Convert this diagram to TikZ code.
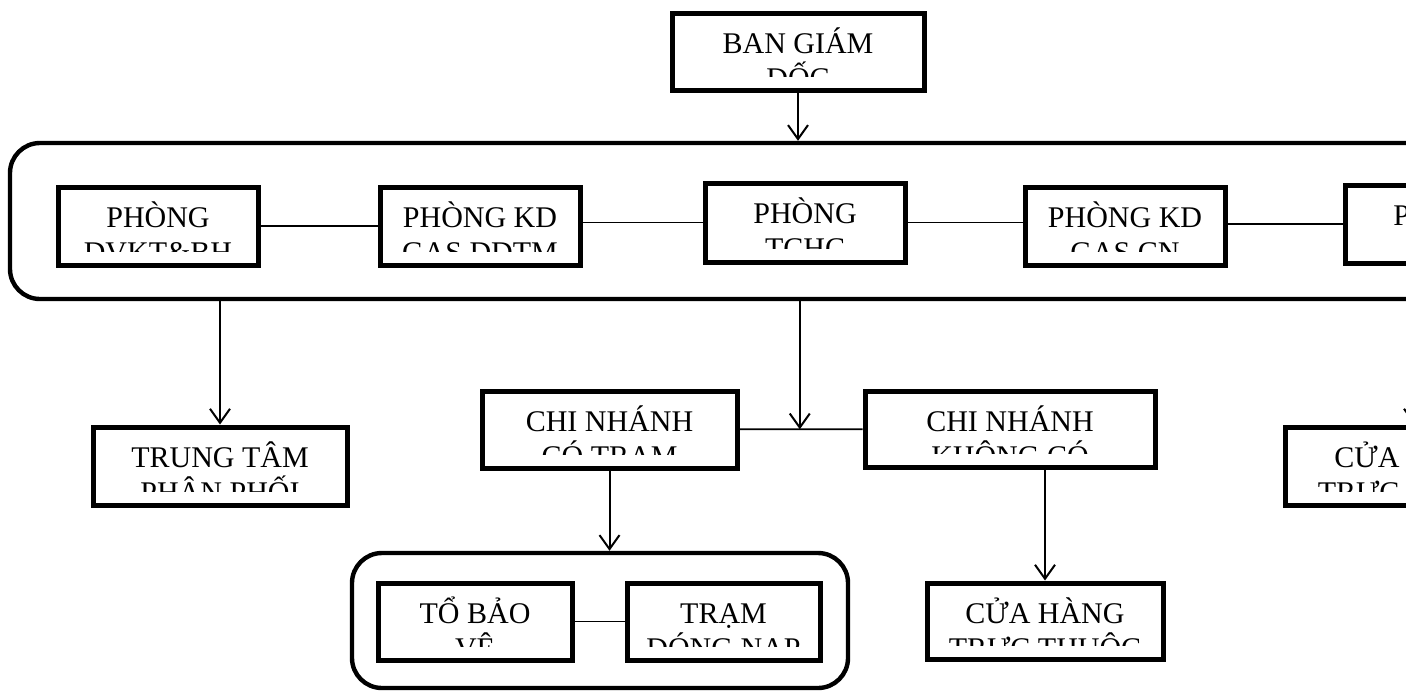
\documentclass[tikz,border=0pt]{standalone}
\usepackage{fontspec}
\setmainfont{Liberation Serif}
\usetikzlibrary{positioning, arrows.meta, fit, calc}
\tikzset{
  orgbox/.style={
    draw, rectangle,
    line width=2.5pt, inner sep=0pt
  },
  grpbox/.style={
    draw, rectangle, rounded corners=15pt,
    line width=2.2pt, inner sep=0pt
  },
  txt/.style={font=\fontsize{15pt}{18pt}\selectfont, anchor=base, inner sep=0pt},
  link/.style={line width=0.9pt},
  darr/.style={-{Straight Barb[length=7pt, width=10pt, line width=1pt]}, line width=1pt},
}
% box with two text lines, the lower one cut by the frame
\newcommand{\deptbox}[7]{%
  \node[orgbox, fit={(#2,#3) (#4,#5)}] (#1) {};
  \begin{scope}
    \clip (#2,#3) rectangle ({#4},{#5-14});
    \node[txt] at ({(#2+#4)/2},{#3+40}) {#6};
    \node[txt] at ({(#2+#4)/2},{#3+75}) {#7};
  \end{scope}
}

\begin{document}
\begin{tikzpicture}[x=0.5pt, y=-0.5pt]
        \clip (0,0) rectangle (1406,691);
        % top
        \deptbox{bgd}{672}{13}{924}{90}{BAN GIÁM}{ĐỐC}
        \node[grpbox, fit={(10,143) (1580,299)}] (grp1) {};
        \deptbox{dvkt}{58}{187}{258}{265}{PHÒNG}{DVKT\&BH}
        \deptbox{kdddtm}{380}{187}{580}{265}{PHÒNG KD}{GAS DDTM}
        \deptbox{tchc}{705}{183}{905}{262}{PHÒNG}{TCHC}
        \deptbox{kdcn}{1025}{187}{1225}{265}{PHÒNG KD}{GAS CN}
        \deptbox{pkt}{1345}{185}{1545}{263}{PHÒNG}{}
        \draw[link] (dvkt) -- (kdddtm);
        \draw[link] (tchc.west -| kdddtm.east) -- (tchc.west);
        \draw[link] (tchc.east) -- (tchc.east -| kdcn.west);
        \draw[link] (pkt.west -| kdcn.east) -- (pkt.west);
        \draw[darr] (bgd.south) -- (bgd.south |- grp1.north);
        % branches
        \deptbox{ttpp}{93}{427}{347}{505}{TRUNG TÂM}{PHÂN PHỐI}
        \deptbox{cnct}{482}{391}{737}{468}{CHI NHÁNH}{CÓ TRẠM}
        \deptbox{cnkc}{865}{391}{1155}{467}{CHI NHÁNH}{KHÔNG CÓ}
        \deptbox{chtt2}{1285}{427}{1543}{505}{CỬA HÀNG}{TRỰC THUỘC}
        \draw[link] (cnct) -- (cnkc);
        \coordinate (cnmid) at ($(cnct.east)!0.49!(cnkc.west)$);
        \draw[darr] (grp1.south -| ttpp.north) -- (ttpp.north);
        \draw[darr] (grp1.south -| cnmid) -- (cnmid);
        \draw[darr] (grp1.south -| chtt2.north) -- (chtt2.north);
        % bottom
        \node[grpbox, fit={(352,553) (848,688)}] (grp2) {};
        \deptbox{tbv}{378}{583}{572}{660}{TỔ BẢO}{VỆ}
        \deptbox{tdn}{627}{583}{820}{660}{TRẠM}{ĐÓNG NẠP}
        \deptbox{chtt}{927}{583}{1163}{659}{CỬA HÀNG}{TRỰC THUỘC}
        \draw[link] (tbv) -- (tdn);
        \draw[darr] (cnct.south) -- (cnct.south |- grp2.north);
        \draw[darr] (cnkc.south -| chtt.north) -- (chtt.north);
      \end{tikzpicture}
\end{document}
